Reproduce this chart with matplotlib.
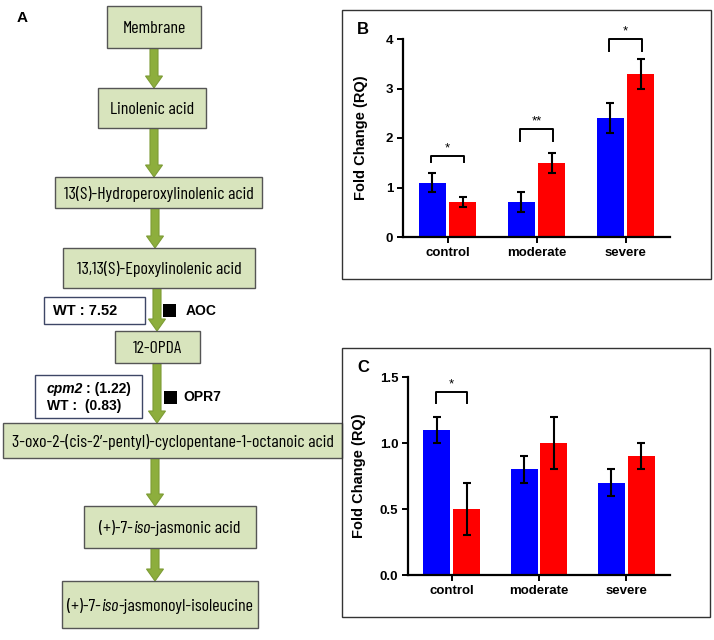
import numpy as np
import matplotlib.pyplot as plt
from matplotlib import font_manager
from matplotlib.patches import Rectangle, FancyArrow

plt.rcParams['font.family'] = ['Liberation Sans', 'DejaVu Sans']

# bar chart data
cats = ['control', 'moderate', 'severe']
b_blue = [1.1, 0.7, 2.4]
b_blue_err = [0.2, 0.2, 0.3]
b_red = [0.7, 1.5, 3.3]
b_red_err = [0.1, 0.2, 0.3]
b_sig_lab = ['*', '**', '*']
b_sig_top = [1.64, 2.18, 4.0]
b_sig_low = [1.52, 1.93, 3.75]

c_blue = [1.1, 0.8, 0.7]
c_blue_err = [0.1, 0.1, 0.1]
c_red = [0.5, 1.0, 0.9]
c_red_err = [0.2, 0.2, 0.1]
c_sig_lab = ['*', '', '']
c_sig_top = [1.39, None, None]
c_sig_low = [1.30, None, None]

# pathway steps (text parts, italic flag)
steps = [
    [('Membrane', 0)],
    [('Linolenic acid', 0)],
    [('13(S)-Hydroperoxylinolenic acid', 0)],
    [('13,13(S)-Epoxylinolenic acid', 0)],
    [('12-OPDA', 0)],
    [('3-oxo-2-(cis-2\u2019-pentyl)-cyclopentane-1-octanoic acid', 0)],
    [('(+)-7-', 0), ('iso', 1), ('-jasmonic acid', 0)],
    [('(+)-7-', 0), ('iso', 1), ('-jasmonoyl-isoleucine', 0)],
]
aoc_wt = '7.52'
opr7_cpm2 = '(1.22)'
opr7_wt = '(0.83)'

fig = plt.figure(figsize=(7.14, 6.4), dpi=100)
ax0 = fig.add_axes([0, 0, 1, 1])
ax0.set_xlim(0, 714)
ax0.set_ylim(640, 0)
ax0.axis('off')
r = fig.canvas.get_renderer()

# boxes: x0, x1, y0, y1, text width
boxes = [(107, 201, 6, 48, 65), (98, 206, 88, 128, 80), (55, 262, 177, 208, 189),
         (63, 255, 248, 288, 170), (115, 200, 331, 363, 46), (3, 342, 423, 458, 327),
         (84, 256, 506, 548, 155), (62, 258, 581, 628, 180)]
arrows = [(154, 48, 88), (154, 128, 177), (155, 208, 248), (157, 288, 331),
          (157, 363, 423), (155, 458, 506), (155, 548, 581)]

# pick a narrow font whose natural width at 13pt fits the boxes best
names = {f.name for f in font_manager.fontManager.ttflist}
cands = ['Fira Sans Extra Condensed', 'Fira Sans Condensed', 'PT Sans Narrow', 'Asap Condensed',
         'Liberation Sans Narrow', 'Roboto Condensed', 'Open Sans Condensed',
         'Encode Sans Condensed', 'Archivo Narrow', 'Barlow Semi Condensed', 'Barlow Condensed']
cands = [c for c in cands if c in names] or ['Liberation Sans']
best, best_k = cands[0], 0.0
best_err = 1e9
for c in cands:
    ks = []
    for (x0, x1, y0, y1, tw), parts in zip(boxes, steps):
        s = ''.join(p for p, it in parts)
        t = ax0.text(0, 0, s, family=c, fontsize=13)
        ks.append(np.log(tw / t.get_window_extent(r).width))
        t.remove()
    e = abs(np.mean(ks))
    if e < best_err:
        best, best_err, best_k = c, e, np.mean(ks)
base = 13 * np.exp(best_k)

for x, y0, y1 in arrows:
    ax0.add_patch(FancyArrow(x, y0, 0, y1 - y0, width=8, head_width=17, head_length=12,
                             length_includes_head=True, fc='#8dae3d', ec='#7d9c35', lw=0.8))

for (x0, x1, y0, y1, tw), parts in zip(boxes, steps):
    ax0.add_patch(Rectangle((x0, y0), x1 - x0, y1 - y0, fc='#d8e4bd', ec='#555555', lw=1))
    ts = []
    for s, it in parts:
        ts.append(ax0.text(0, 0, s, family=best, style='italic' if it else 'normal',
                           fontsize=base, ha='left', va='baseline', color='black'))
    w = sum(t.get_window_extent(r).width for t in ts)
    size = base * min(1.0, (x1 - x0 - 8) / w)
    for t in ts:
        t.set_fontsize(size)
    ws = [t.get_window_extent(r).width for t in ts]
    cx = (x0 + x1) / 2 - sum(ws) / 2
    cy = (y0 + y1) / 2 + 0.35 * size * 100 / 72
    for t, wi in zip(ts, ws):
        t.set_position((cx, cy))
        cx += wi

# enzyme annotations
ax0.add_patch(Rectangle((44, 297), 101, 27, fc='white', ec='#3e4766', lw=1))
ax0.text(53, 311, 'WT : ' + aoc_wt, fontsize=10.5, fontweight='bold', va='center')
ax0.add_patch(Rectangle((163, 304), 13, 13, fc='black', ec='none'))
ax0.text(186, 311, 'AOC', fontsize=10, fontweight='bold', va='center')

ax0.add_patch(Rectangle((35, 375), 107, 43, fc='white', ec='#3e4766', lw=1))
t1 = ax0.text(47, 389, 'cpm2', fontsize=10, fontweight='bold', style='italic', va='center')
ax0.text(47 + t1.get_window_extent(r).width + 3, 389, ': ' + opr7_cpm2, fontsize=10,
         fontweight='bold', va='center')
ax0.text(47, 406, 'WT :  ' + opr7_wt, fontsize=10, fontweight='bold', va='center')
ax0.add_patch(Rectangle((164, 391), 13, 13, fc='black', ec='none'))
ax0.text(183, 397, 'OPR7', fontsize=10, fontweight='bold', va='center')

ax0.text(22, 18, 'A', fontsize=11, fontweight='bold', ha='center', va='center')

# panel frames
ax0.add_patch(Rectangle((342, 10), 369, 269, fc='none', ec='#333333', lw=1))
ax0.add_patch(Rectangle((342, 348), 368, 269, fc='none', ec='#333333', lw=1))
ax0.text(363, 30, 'B', fontsize=12, fontweight='bold', ha='center', va='center')
ax0.text(363, 368, 'C', fontsize=12, fontweight='bold', ha='center', va='center')


def bars(ax, blue, berr, red, rerr, lab, top, low, ymax, yticks, fmt, lx):
    x = np.arange(len(cats))
    ax.bar(x - 0.17, blue, 0.31, color='#0000ff', zorder=2)
    ax.bar(x + 0.17, red, 0.31, color='#ff0000', zorder=2)
    ax.errorbar(x - 0.17, blue, yerr=berr, fmt='none', ecolor='black', elinewidth=1.5,
                capsize=3, capthick=1.5, zorder=3)
    ax.errorbar(x + 0.17, red, yerr=rerr, fmt='none', ecolor='black', elinewidth=1.5,
                capsize=3, capthick=1.5, zorder=3)
    for i in range(len(cats)):
        if top[i] is None:
            continue
        ax.plot([i - 0.18, i - 0.18, i + 0.18, i + 0.18], [low[i], top[i], top[i], low[i]],
                color='black', lw=1.4, clip_on=False)
        ax.annotate(lab[i], (i, top[i]), xytext=(0, 1), textcoords='offset points',
                    ha='center', va='bottom', fontsize=9.5, annotation_clip=False)
    ax.set_xlim(-0.5, 2.5)
    ax.set_ylim(0, ymax)
    ax.set_xticks(x)
    ax.set_xticklabels(cats, fontsize=9.5, fontweight='bold')
    ax.set_yticks(yticks)
    ax.set_yticklabels([fmt.format(v) for v in yticks], fontsize=9.5, fontweight='bold')
    ax.set_ylabel('Fold Change (RQ)', fontsize=10.5, fontweight='bold')
    ax.yaxis.set_label_coords(lx, 0.5)
    for s in ['top', 'right']:
        ax.spines[s].set_visible(False)
    for s in ['left', 'bottom']:
        ax.spines[s].set_linewidth(1.6)
    ax.tick_params(width=1.4, length=4, pad=3)
    ax.set_facecolor('none')


axB = fig.add_axes([403 / 714, 1 - 237 / 640, 267 / 714, 198 / 640])
bars(axB, b_blue, b_blue_err, b_red, b_red_err, b_sig_lab, b_sig_top, b_sig_low,
     4, [0, 1, 2, 3, 4], '{:.0f}', -0.131)
axC = fig.add_axes([408 / 714, 1 - 575 / 640, 262 / 714, 198 / 640])
bars(axC, c_blue, c_blue_err, c_red, c_red_err, c_sig_lab, c_sig_top, c_sig_low,
     1.5, [0, 0.5, 1.0, 1.5], '{:.1f}', -0.16)

fig.savefig('out.png', dpi=100)
